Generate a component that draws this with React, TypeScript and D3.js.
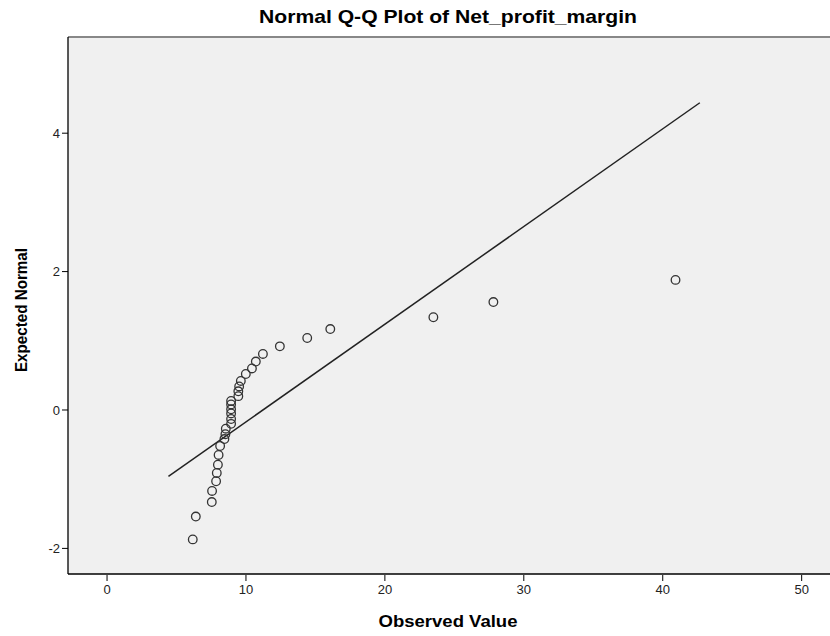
import React from "react";
import * as d3 from "d3";

// values
const observed = [
  6.17, 6.39, 7.54, 7.56, 7.85, 7.9, 7.98, 8.03, 8.14, 8.45, 8.52, 8.55, 8.93,
  8.93, 8.93, 8.93, 8.93, 8.93, 9.45, 9.45, 9.51, 9.63, 9.99, 10.43, 10.71,
  11.22, 12.44, 14.41, 16.07, 23.49, 27.81, 40.92,
];
const expected = [
  -1.87, -1.54, -1.33, -1.17, -1.03, -0.91, -0.79, -0.65, -0.52, -0.42, -0.35,
  -0.27, -0.2, -0.13, -0.05, 0.01, 0.08, 0.13, 0.2, 0.27, 0.34, 0.42, 0.52, 0.6,
  0.7, 0.81, 0.92, 1.04, 1.17, 1.34, 1.56, 1.88,
];
const lineX = [4.42, 42.67];
const lineY = [-0.96, 4.44];
const xTicks = [0, 10, 20, 30, 40, 50];
const yTicks = [-2, 0, 2, 4];

const font = "'Liberation Sans', Arial, sans-serif";

const QQPlot = () => {
  const width = 830;
  const height = 636;
  const left = 68;
  const right = 830;
  const top = 37;
  const bottom = 574;

  const x = d3.scaleLinear().domain([-2.81, 52.04]).range([left, right]);
  const y = d3.scaleLinear().domain([-2.37, 5.39]).range([bottom, top]);

  const line = d3
    .line<number>()
    .x((d) => x(d))
    .y((_, i) => y(lineY[i]));

  return (
    <svg
      width={width}
      height={height}
      style={{ position: "absolute", left: 0, top: 0, background: "#fff" }}
      fontFamily={font}
    >
      <text
        x={448}
        y={23}
        textAnchor="middle"
        fontSize="19"
        fontWeight="bold"
        textLength={378}
        lengthAdjust="spacingAndGlyphs"
      >
        Normal Q-Q Plot of Net_profit_margin
      </text>

      <rect x={left} y={top} width={right - left} height={bottom - top} fill="#f0f0f0" />
      <line x1={left} x2={right} y1={top} y2={top} stroke="#888" strokeWidth="2" />
      <line x1={left} x2={left} y1={top} y2={bottom} stroke="#000" strokeWidth="1.3" />
      <line x1={left} x2={right} y1={bottom} y2={bottom} stroke="#000" strokeWidth="1.3" />

      {yTicks.map((t) => (
        <g key={t} transform={`translate(0,${y(t)})`}>
          <line x1={left - 6} x2={left} stroke="#000" />
          <text x={left - 8} dy="0.35em" textAnchor="end" fontSize="13" fill="#222">
            {t}
          </text>
        </g>
      ))}
      {xTicks.map((t) => (
        <g key={t} transform={`translate(${x(t)},0)`}>
          <line y1={bottom + 1} y2={bottom + 7} stroke="#000" />
          <text y={bottom + 20} textAnchor="middle" fontSize="13" fill="#222">
            {t}
          </text>
        </g>
      ))}

      <path d={line(lineX) ?? ""} fill="none" stroke="#222" strokeWidth="1.5" />

      {observed.map((v, i) => (
        <circle
          key={i}
          cx={x(v)}
          cy={y(expected[i])}
          r={4.3}
          fill="none"
          stroke="#333"
          strokeWidth="1.3"
        />
      ))}

      <text
        x={448}
        y={627}
        textAnchor="middle"
        fontSize="17"
        fontWeight="bold"
        textLength={139}
        lengthAdjust="spacingAndGlyphs"
      >
        Observed Value
      </text>
      <text
        transform={`translate(27,310) rotate(-90)`}
        textAnchor="middle"
        fontSize="17"
        fontWeight="bold"
        textLength={124}
        lengthAdjust="spacingAndGlyphs"
      >
        Expected Normal
      </text>
    </svg>
  );
};

export default function App() {
  return <QQPlot />;
}
